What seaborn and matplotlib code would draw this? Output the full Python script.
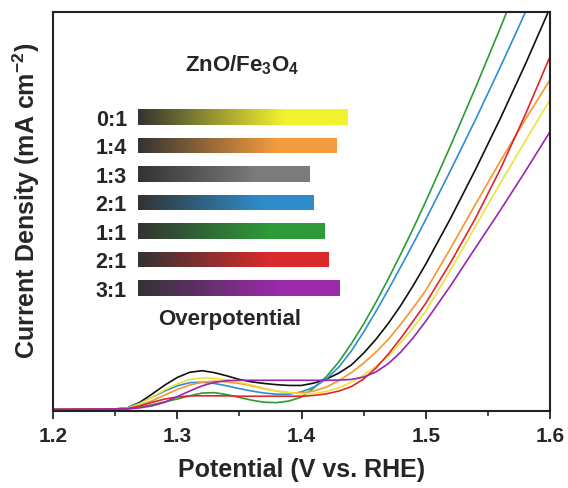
import numpy as np
import pandas as pd
import matplotlib.pyplot as plt
from matplotlib.colors import LinearSegmentedColormap
from matplotlib.ticker import MultipleLocator
import seaborn as sns

sns.set_style('ticks')
plt.rcParams['font.family'] = ['Liberation Sans', 'DejaVu Sans']
plt.rcParams['font.weight'] = 'bold'
plt.rcParams['mathtext.default'] = 'regular'

# LSV curves, current density in arbitrary units (axis has no tick labels)
potential = [1.20, 1.25, 1.26, 1.27, 1.28, 1.29, 1.30, 1.31, 1.32, 1.33, 1.34, 1.35, 1.36, 1.37, 1.38, 1.39,
             1.40, 1.41, 1.42, 1.43, 1.44, 1.45, 1.46, 1.47, 1.48, 1.49, 1.50, 1.52, 1.54, 1.56, 1.58, 1.60]
j_black = [0.4, 0.5, 0.8, 2.2, 4.3, 6.5, 8.4, 9.7, 10.1, 9.6, 8.8, 7.9, 7.3, 6.9, 6.6, 6.4,
           6.4, 7.0, 8.0, 9.5, 11.5, 14.5, 18.0, 22.0, 26.5, 31.5, 36.8, 48.3, 60.5, 73.3, 86.8, 101.0]
j_green = [0.4, 0.5, 0.6, 1.0, 1.6, 2.3, 3.0, 3.8, 4.5, 4.6, 4.1, 3.4, 2.7, 2.2, 2.1, 2.5,
           3.5, 5.8, 8.6, 12.3, 16.8, 21.8, 27.3, 33.2, 39.4, 45.8, 52.5, 66.5, 81.0, 96.0, 111.5, 127.0]
j_blue = [0.4, 0.5, 0.8, 2.0, 3.5, 5.0, 6.3, 7.1, 7.2, 6.9, 6.3, 5.6, 5.0, 4.5, 4.2, 4.2,
          4.8, 6.0, 8.0, 11.0, 15.0, 19.8, 25.0, 30.5, 36.2, 42.0, 48.0, 60.3, 73.0, 86.2, 99.8, 113.6]
j_orange = [0.4, 0.5, 0.6, 1.4, 2.6, 4.0, 5.4, 6.5, 7.2, 7.5, 7.3, 6.9, 6.3, 5.6, 5.0, 4.6,
            4.5, 5.0, 6.0, 7.6, 9.6, 12.0, 14.8, 18.0, 21.8, 25.9, 30.2, 40.8, 51.8, 62.6, 73.0, 83.0]
j_yellow = [0.4, 0.5, 0.7, 1.8, 3.5, 5.3, 6.8, 7.9, 8.3, 8.2, 7.8, 7.2, 6.5, 5.7, 5.0, 4.6,
            4.3, 4.4, 4.9, 5.8, 7.2, 9.0, 11.2, 13.8, 17.2, 20.9, 25.0, 35.4, 46.3, 57.1, 67.6, 78.0]
j_red = [0.4, 0.5, 0.6, 1.3, 2.2, 3.0, 3.5, 3.8, 3.8, 3.8, 3.8, 3.7, 3.7, 3.7, 3.7, 3.7,
         3.7, 3.9, 4.3, 5.0, 6.1, 8.0, 10.8, 14.3, 18.3, 22.6, 27.0, 37.2, 48.3, 60.6, 74.2, 88.8]
j_purple = [0.4, 0.5, 0.5, 0.8, 1.3, 2.2, 3.6, 5.0, 6.3, 7.2, 7.6, 7.7, 7.7, 7.7, 7.7, 7.7,
            7.7, 7.7, 7.7, 7.75, 7.9, 8.5, 9.8, 11.9, 14.8, 18.4, 22.5, 31.4, 40.9, 50.3, 60.0, 70.0]

curves = {'black': j_black, 'green': j_green, 'blue': j_blue, 'orange': j_orange,
          'yellow': j_yellow, 'red': j_red, 'purple': j_purple}
line_colors = {'black': '#111111', 'green': '#2c9a35', 'blue': '#2b8fd3', 'orange': '#f5962e',
               'yellow': '#ece43a', 'red': '#e0262a', 'purple': '#9b25b0'}

# inset: overpotential bars (length in arbitrary units)
ratios = ['0:1', '1:4', '1:3', '2:1', '1:1', '2:1', '3:1']
overpotential = [209, 198, 171, 175, 186, 190, 201]
bar_colors = ['#f4f22e', '#f59c3e', '#7c7c7c', '#2f8bca', '#2f9a38', '#dc2a2c', '#9b2aab']

df = pd.concat([pd.DataFrame({'Potential': potential, 'J': v, 'sample': k}) for k, v in curves.items()])

fig = plt.figure(figsize=(5.68, 4.89), dpi=100)
ax = fig.add_axes([53/568, 77/489, 497/568, 399/489])

sns.lineplot(data=df, x='Potential', y='J', hue='sample', hue_order=list(curves),
             palette=line_colors, errorbar=None, legend=False, lw=1.2, ax=ax)
ax.set_xlim(1.2, 1.6)
ax.set_ylim(0, 100)
ax.set_yticks([])
ax.set_xticks([1.2, 1.3, 1.4, 1.5, 1.6])
ax.xaxis.set_minor_locator(MultipleLocator(0.05))
ax.tick_params(axis='x', which='major', direction='out', length=6, width=1.3, labelsize=15, pad=5)
ax.tick_params(axis='x', which='minor', direction='out', length=3.5, width=1.2)
for s in ax.spines.values():
    s.set_linewidth(1.5)
    s.set_color('#222222')
ax.set_xlabel('Potential (V vs. RHE)', fontsize=18, fontweight='bold')
ax.xaxis.set_label_coords(0.5, -0.115)
ax.set_ylabel('Current Density (mA cm$^{-2}$)', fontsize=18, fontweight='bold')
ax.yaxis.set_label_coords(-0.022, 0.53)

# inset bars with dark-to-colour gradient
ax2 = fig.add_axes([138/568, (489-303.25)/489, 210/568, 199.5/489])
ids = ['r%d' % i for i in range(len(ratios))]
sns.barplot(x=overpotential, y=ids, hue=ids, palette=dict(zip(ids, bar_colors)),
            orient='y', width=0.56, legend=False, ax=ax2)
for p in list(ax2.patches):
    idx = int(round(p.get_y() + p.get_height()/2))
    cmap = LinearSegmentedColormap.from_list('g', [(0, '#333333'), (0.7, bar_colors[idx]), (1, bar_colors[idx])])
    im = ax2.imshow(np.linspace(0, 1, 256)[None, :], extent=[p.get_x(), p.get_x()+p.get_width(),
                    p.get_y()+p.get_height(), p.get_y()], aspect='auto', cmap=cmap, zorder=3)
    im.set_clip_path(p)
    p.set_facecolor('none')
    p.set_edgecolor('none')
ax2.set_xlim(0, 210)
ax2.set_ylim(6.5, -0.5)
ax2.set_xticks([])
ax2.set_yticks(range(len(ratios)))
ax2.set_yticklabels(ratios)
ax2.tick_params(axis='y', length=0, pad=8, labelsize=15.5)
ax2.set_xlabel('')
ax2.set_ylabel('')
ax2.patch.set_alpha(0)
for s in ax2.spines.values():
    s.set_visible(False)

fig.text(0.427, 0.867, 'ZnO/Fe$_3$O$_4$', ha='center', va='center', fontsize=16, fontweight='bold')
fig.text(0.405, 0.346, 'Overpotential', ha='center', va='center', fontsize=16, fontweight='bold')

fig.savefig('out.png', dpi=100)
